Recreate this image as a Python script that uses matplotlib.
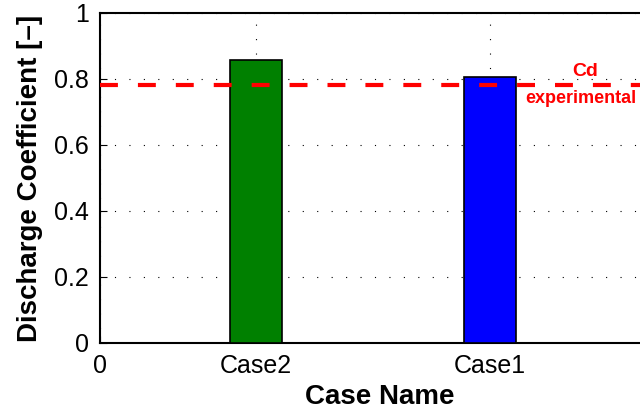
import matplotlib.pyplot as plt

# data
cases = ['Case2', 'Case1']
case_pos = [2, 5]
cd_values = [0.857, 0.805]
bar_colors = ['#008000', '#0000ff']
cd_exp = 0.782

plt.rcParams['font.family'] = ['Liberation Sans', 'DejaVu Sans']

fig = plt.figure(figsize=(6.4, 4.17), dpi=100)
# axes runs past the right edge of the figure, like the original
ax = fig.add_axes([100 / 640, (417 - 343) / 417, 560 / 640, 330 / 417])

ax.bar(case_pos, cd_values, width=0.67, color=bar_colors,
       edgecolor='black', linewidth=1.2, zorder=3)
ax.axhline(cd_exp, color='red', linestyle=(0, (4.3, 4.8)), linewidth=3, zorder=4)
ax.text(6.22, 0.822, 'Cd', color='red', fontsize=14, fontweight='bold',
        ha='center', va='center', clip_on=False)
ax.text(6.16, 0.742, 'experimental', color='red', fontsize=13, fontweight='bold',
        ha='center', va='center', clip_on=False)

ax.set_xlim(0, 560 / 78)
ax.set_ylim(0, 1)
ax.set_xticks([0] + case_pos)
ax.set_xticklabels(['0'] + cases)
ax.set_yticks([0, 0.2, 0.4, 0.6, 0.8, 1])
ax.set_yticklabels(['0', '0.2', '0.4', '0.6', '0.8', '1'])
ax.tick_params(labelsize=18, direction='in', length=5, pad=8)
ax.grid(True, linestyle=(0, (1, 12)), color='black', linewidth=0.8, zorder=0)
for s in ax.spines.values():
    s.set_linewidth(1.5)

ax.set_xlabel('Case Name', fontsize=20, fontweight='bold', labelpad=4)
ax.set_ylabel('Discharge Coefficient [\u2013]', fontsize=20, fontweight='bold',
              labelpad=8)

fig.savefig('out.png', dpi=100)
